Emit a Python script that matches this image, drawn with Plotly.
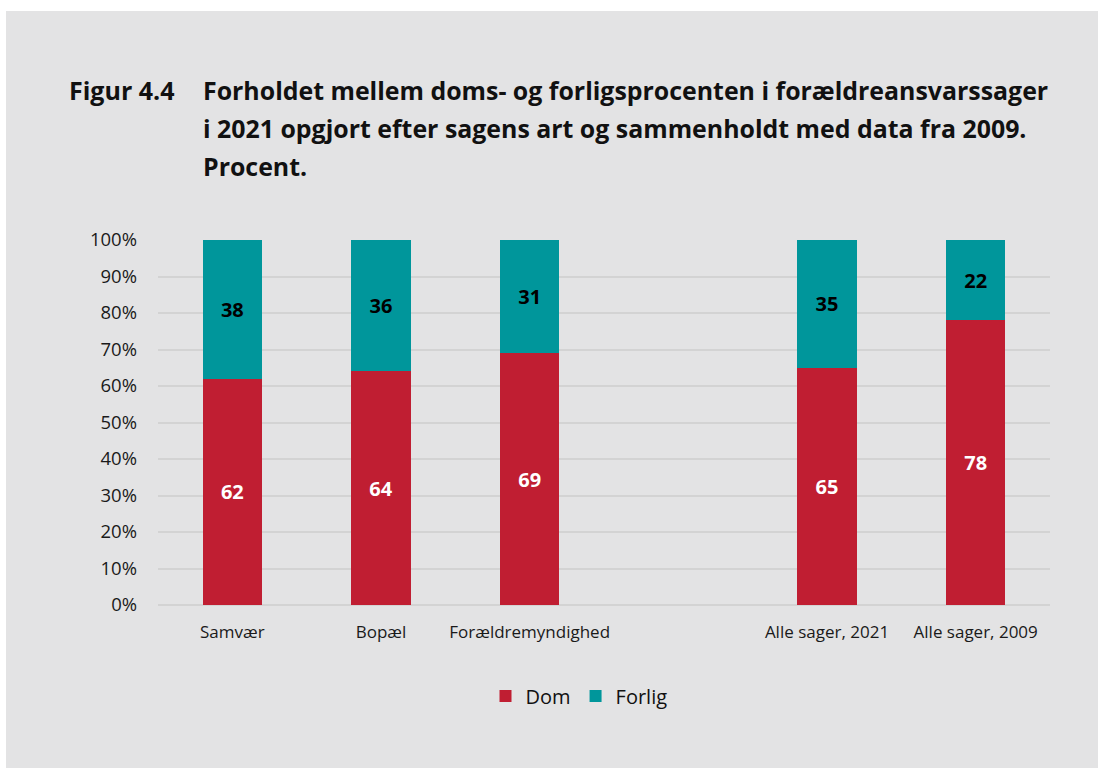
import plotly.graph_objects as go

categories = ["Samvær", "Bopæl", "Forældremyndighed", " ", "Alle sager, 2021", "Alle sager, 2009"]
dom = [62, 64, 69, None, 65, 78]
forlig = [38, 36, 31, None, 35, 22]
yticks = [0, 10, 20, 30, 40, 50, 60, 70, 80, 90, 100]
ytick_labels = [f"{v}%" for v in yticks]

FONT = "Open Sans"
BG = "#e3e3e4"
RED = "#c01e32"
TEAL = "#00969b"

L, R, T, B = 158, 48, 240, 163
W, H = 1098, 768
PW, PH = W - L - R, H - T - B

def px(x):
    return (x - L) / PW

def py(y):
    return (H - B - y) / PH

fig = go.Figure()
fig.add_trace(go.Bar(
    name="Dom", x=categories, y=dom, marker=dict(color=RED, line=dict(width=0)),
    text=[("" if v is None else str(v)) for v in dom], textposition="inside",
    insidetextanchor="middle",
    textfont=dict(family=FONT, size=20, color="white", weight="bold"),
))
fig.add_trace(go.Bar(
    name="Forlig", x=categories, y=forlig, marker=dict(color=TEAL, line=dict(width=0)),
    text=[("" if v is None else str(v)) for v in forlig], textposition="inside",
    insidetextanchor="middle",
    textfont=dict(family=FONT, size=20, color="black", weight="bold"),
))

title_lines = [
    "Forholdet mellem doms- og forligsprocenten i forældreansvarssager",
    "i 2021 opgjort efter sagens art og sammenholdt med data fra 2009.",
    "Procent.",
]
annotations = [dict(
    text="<b>Figur 4.4</b>", xref="paper", yref="paper", x=px(67), y=py(90),
    xanchor="left", yanchor="middle", showarrow=False,
    font=dict(family=FONT, size=25, color="#111111"),
)]
for i, line in enumerate(title_lines):
    annotations.append(dict(
        text="<b>" + line + "</b>", xref="paper", yref="paper", x=px(201), y=py(90 + 38 * i),
        xanchor="left", yanchor="middle", showarrow=False,
        font=dict(family=FONT, size=24.9, color="#111111"),
    ))

shapes = [
    dict(type="rect", xref="paper", yref="paper", x0=px(-5), x1=px(W + 5), y0=py(11), y1=py(-5),
         fillcolor="white", line=dict(width=0), layer="below"),
    dict(type="rect", xref="paper", yref="paper", x0=px(-5), x1=px(6), y0=py(H + 5), y1=py(-5),
         fillcolor="white", line=dict(width=0), layer="below"),
]

fig.update_layout(
    width=W, height=H,
    barmode="stack", bargap=0.6,
    paper_bgcolor=BG, plot_bgcolor=BG,
    margin=dict(l=L, r=R, t=T, b=B, autoexpand=False),
    font=dict(family=FONT, color="#1a1a1a"),
    annotations=annotations,
    shapes=shapes,
    showlegend=True,
    legend=dict(orientation="h", xanchor="center", yanchor="middle", x=px(579), y=py(696),
                font=dict(family=FONT, size=20, color="#111111"), bgcolor="rgba(0,0,0,0)",
                itemwidth=30, traceorder="normal"),
    uniformtext=dict(mode="show", minsize=10),
)
fig.update_xaxes(
    type="category", showgrid=False, showline=False, zeroline=False,
    tickfont=dict(family=FONT, size=17, color="#1a1a1a"), ticklabelstandoff=15,
)
fig.update_yaxes(
    range=[0, 100], tickmode="array", tickvals=yticks, ticktext=ytick_labels, showgrid=True,
    gridcolor="#d3d3d3", gridwidth=1.5, zeroline=True, zerolinecolor="#d3d3d3", zerolinewidth=2,
    showline=False, tickfont=dict(family=FONT, size=18.5, color="#1a1a1a"), ticklabelstandoff=20,
)

fig.write_html("out.html", config={"displayModeBar": False},
               post_script="document.body.style.margin='0';document.body.style.padding='0';")
